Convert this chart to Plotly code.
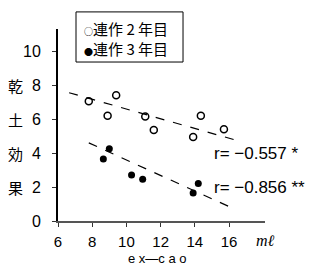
import plotly.graph_objects as go

# 連作2年目 (open circles)
x2 = [7.8, 9.4, 8.9, 11.1, 11.6, 14.35, 13.9, 15.7]
y2 = [7.05, 7.4, 6.2, 6.15, 5.35, 6.2, 4.95, 5.4]
# 連作3年目 (filled circles)
x3 = [9.0, 8.65, 10.3, 10.95, 13.9, 14.2]
y3 = [4.25, 3.65, 2.7, 2.45, 1.65, 2.2]
# regression lines (endpoints)
fit2_x = [6.65, 16.6]
fit2_y = [7.55, 4.7]
fit3_x = [7.8, 16.0]
fit3_y = [4.6, 0.85]

x_ticks = [6, 8, 10, 12, 14, 16]
y_ticks = [0, 2, 4, 6, 8, 10]
series_names = ["連作 2 年目", "連作 3 年目"]
legend_syms = ["○", "●"]
ylabel_chars = ["乾", "土", "効", "果"]
ylabel_pos = [8, 6, 4, 2]
r_labels = ["r= −0.557 *", "r= −0.856 **"]
r_pos_y = [4.0, 1.95]
r_pos_x = 15.0

FONT = "Liberation Sans, Noto Sans CJK JP, sans-serif"
CJK = "Noto Sans CJK JP, sans-serif"

fig = go.Figure()
fig.add_trace(go.Scatter(x=fit2_x, y=fit2_y, mode="lines",
                         line=dict(color="black", width=1.2, dash="dash"),
                         showlegend=False, hoverinfo="skip"))
fig.add_trace(go.Scatter(x=fit3_x, y=fit3_y, mode="lines",
                         line=dict(color="black", width=1.2, dash="dash"),
                         showlegend=False, hoverinfo="skip"))
fig.add_trace(go.Scatter(x=x2, y=y2, mode="markers", name=series_names[0],
                         showlegend=False,
                         marker=dict(symbol="circle-open", size=7, color="black",
                                     line=dict(width=1.5, color="black"))))
fig.add_trace(go.Scatter(x=x3, y=y3, mode="markers", name=series_names[1],
                         showlegend=False,
                         marker=dict(symbol="circle", size=7, color="black")))

# legend box: border rectangle + two text entries
fig.add_shape(type="rect", xref="paper", yref="paper",
              x0=0.087, x1=0.604, y0=0.828, y1=1.089,
              line=dict(color="black", width=1), fillcolor="white", layer="above")
for i, (s, n) in enumerate(zip(legend_syms, series_names)):
    fig.add_annotation(x=0.118, xref="paper", xanchor="left",
                       y=0, yref="paper", yanchor="middle", yshift=192 + 1 - 20 * i,
                       text=f"<span style='font-size:9px'>{s}</span>{n}",
                       align="left", showarrow=False,
                       font=dict(family=CJK, size=15, color="black"))

for ch, yy in zip(ylabel_chars, ylabel_pos):
    fig.add_annotation(x=0, xref="paper", xanchor="center", xshift=-43,
                       y=yy, yref="y", text=ch, showarrow=False,
                       font=dict(family=CJK, size=15, color="black"))
for t, yy in zip(r_labels, r_pos_y):
    fig.add_annotation(x=r_pos_x, y=yy, xref="x", yref="y", text=t,
                       xanchor="left", showarrow=False,
                       font=dict(family=FONT, size=17, color="black"))
fig.add_annotation(x=1, xref="paper", xshift=0, y=0, yref="paper", yshift=-19,
                   text="<i>mℓ</i>", showarrow=False, xanchor="center", yanchor="middle",
                   font=dict(family="Liberation Serif, serif", size=16, color="black"))
fig.add_annotation(x=0.5, xref="paper", xshift=-4, y=0, yref="paper", yshift=-37,
                   text="e x—c a o", showarrow=False, xanchor="center", yanchor="middle",
                   font=dict(family=FONT, size=13, color="black"))

fig.update_layout(
    width=334, height=266,
    margin=dict(l=58, r=69, t=29, b=45),
    plot_bgcolor="white", paper_bgcolor="white",
    font=dict(family=FONT, size=16, color="black"),
    showlegend=False,
    xaxis=dict(range=[6, 18.1], tickvals=x_ticks, showgrid=False, zeroline=False,
               showline=True, linecolor="#555", linewidth=2,
               ticks="outside", ticklen=4, tickcolor="#333",
               ticklabelstandoff=2, tickfont=dict(size=15)),
    yaxis=dict(range=[0, 11.3], tickvals=y_ticks, showgrid=False, zeroline=False,
               showline=True, linecolor="black", linewidth=2,
               ticks="outside", ticklen=4, tickcolor="#333",
               ticklabelstandoff=8, tickfont=dict(size=16)),
)

fig.write_html("out.html")
